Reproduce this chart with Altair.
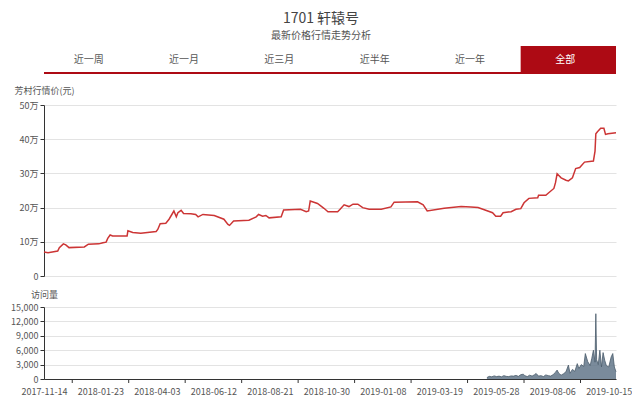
import altair as alt
import pandas as pd

# ---------------- data ----------------
tab_labels = ["近一周", "近一月", "近三月", "近半年", "近一年", "全部"]
active_tab = "全部"

price_dates = [
    "2017-11-14", "2017-11-19", "2017-11-26", "2017-12-01", "2017-12-03", "2017-12-08",
    "2017-12-11", "2017-12-15", "2018-01-03", "2018-01-08", "2018-01-21", "2018-01-26",
    "2018-01-30", "2018-02-01", "2018-02-04", "2018-02-07", "2018-02-25", "2018-02-26",
    "2018-03-04", "2018-03-14", "2018-04-02", "2018-04-04", "2018-04-07", "2018-04-14",
    "2018-04-18", "2018-04-24", "2018-04-27", "2018-04-29", "2018-05-03", "2018-05-06",
    "2018-05-15", "2018-05-21", "2018-05-24", "2018-05-30", "2018-06-13", "2018-06-25",
    "2018-06-30", "2018-07-02", "2018-07-07", "2018-07-26", "2018-08-04", "2018-08-07",
    "2018-08-12", "2018-08-16", "2018-08-20", "2018-09-04", "2018-09-07", "2018-09-28",
    "2018-10-05", "2018-10-08", "2018-10-10", "2018-10-19", "2018-10-23", "2018-10-27",
    "2018-11-01", "2018-11-13", "2018-11-16", "2018-11-21", "2018-11-27", "2018-12-02",
    "2018-12-08", "2018-12-14", "2018-12-22", "2019-01-06", "2019-01-18", "2019-01-22",
    "2019-02-20", "2019-02-27", "2019-03-04", "2019-03-25", "2019-04-15", "2019-04-27",
    "2019-05-06", "2019-05-12", "2019-05-24", "2019-05-28", "2019-06-03", "2019-06-06",
    "2019-06-16", "2019-06-22", "2019-06-28", "2019-07-02", "2019-07-08", "2019-07-19",
    "2019-07-20", "2019-07-29", "2019-08-02", "2019-08-08", "2019-08-10", "2019-08-12",
    "2019-08-17", "2019-08-23", "2019-08-26", "2019-08-31", "2019-09-04", "2019-09-09",
    "2019-09-15", "2019-09-26", "2019-09-28", "2019-09-29", "2019-10-01", "2019-10-05",
    "2019-10-09", "2019-10-11", "2019-10-14", "2019-10-24",
]
price_values = [
    70000, 68000, 71000, 73000, 83000, 94000,
    91000, 83000, 85000, 93000, 94000, 97000,
    99000, 110000, 120000, 117000, 117000, 132000,
    127000, 125000, 130000, 136000, 153000, 154000,
    166000, 190000, 173000, 185000, 192000, 183000,
    182000, 180000, 173000, 180000, 177000, 166000,
    151000, 148000, 161000, 163000, 173000, 180000,
    175000, 177000, 170000, 173000, 193000, 195000,
    188000, 190000, 219000, 212000, 205000, 198000,
    188000, 188000, 195000, 208000, 203000, 210000,
    210000, 200000, 195000, 195000, 202000, 216000,
    217000, 208000, 190000, 198000, 203000, 202000,
    200000, 195000, 185000, 175000, 175000, 185000,
    188000, 195000, 197000, 214000, 227000, 229000,
    236000, 236000, 244000, 256000, 273000, 299000,
    287000, 280000, 278000, 287000, 314000, 317000,
    333000, 336000, 365000, 416000, 422000, 432000,
    432000, 414000, 416000, 419000,
]

visit_dates = [
    "2019-05-17", "2019-05-20", "2019-05-23", "2019-05-26", "2019-05-29", "2019-06-01",
    "2019-06-04", "2019-06-07", "2019-06-10", "2019-06-13", "2019-06-16", "2019-06-19",
    "2019-06-22", "2019-06-25", "2019-06-28", "2019-07-01", "2019-07-03", "2019-07-06",
    "2019-07-09", "2019-07-12", "2019-07-15", "2019-07-17", "2019-07-20", "2019-07-23",
    "2019-07-26", "2019-07-29", "2019-08-01", "2019-08-04", "2019-08-07", "2019-08-10",
    "2019-08-12", "2019-08-14", "2019-08-17", "2019-08-20", "2019-08-23", "2019-08-26",
    "2019-08-28", "2019-08-31", "2019-09-03", "2019-09-06", "2019-09-08", "2019-09-11",
    "2019-09-14", "2019-09-16", "2019-09-19", "2019-09-22", "2019-09-24", "2019-09-26",
    "2019-09-28", "2019-09-29", "2019-09-30", "2019-10-02", "2019-10-04", "2019-10-06",
    "2019-10-08", "2019-10-10", "2019-10-12", "2019-10-15", "2019-10-18", "2019-10-20",
    "2019-10-22", "2019-10-24",
]
visit_values = [
    300, 550, 450, 650, 500, 600,
    450, 700, 550, 500, 650, 600,
    750, 550, 900, 1000, 700, 500,
    800, 600, 900, 1150, 600, 700,
    500, 850, 700, 600, 900, 1400,
    1850, 1200, 800, 1100, 1500, 2900,
    1200, 2000, 1600, 3200, 2200, 3000,
    2600, 5300, 3600, 2800, 4300, 6000,
    3500, 13600, 4000, 3000, 6000, 2500,
    5500, 3900, 2800, 2500, 4600, 5300,
    2500, 1500,
]

axis_label_dates = [
    "2017-11-14", "2018-01-23", "2018-04-03", "2018-06-12", "2018-08-21",
    "2018-10-30", "2019-01-08", "2019-03-19", "2019-05-28", "2019-08-06", "2019-10-15",
]
axis_tick_dates = [
    "2017-12-19", "2018-02-27", "2018-05-08", "2018-07-17", "2018-09-25",
    "2018-12-04", "2019-02-12", "2019-04-23", "2019-07-02", "2019-09-10",
]

# ---------------- helpers ----------------
FONT = "Noto Sans CJK SC"
RED = "#ad0a14"
LINE_RED = "#cc3535"
W = 572


def dt(s):
    y, m, d = (int(p) for p in s.split("-"))
    return alt.DateTime(year=y, month=m, date=d, utc=True)


x_scale = alt.Scale(type="utc", domain=[dt("2017-11-14"), dt("2019-10-24")])

price_df = pd.DataFrame({"date": price_dates, "price": price_values})
visit_df = pd.DataFrame({"date": visit_dates, "visits": visit_values})
tick_df = pd.DataFrame({"date": axis_tick_dates})
tab_df = pd.DataFrame({"tab": tab_labels, "active": [t == active_tab for t in tab_labels]})

# ---------------- header (title + tabs) ----------------
tab_x = alt.X("tab:N", sort=tab_labels, axis=None,
              scale=alt.Scale(paddingInner=0, paddingOuter=0))
tab_rect = alt.Chart(tab_df).mark_rect().encode(
    x=tab_x,
    color=alt.condition("datum.active", alt.value(RED), alt.value("#ffffff")),
)
tab_text = alt.Chart(tab_df).mark_text(font=FONT, fontSize=10, baseline="middle", dx=-3).encode(
    x=tab_x,
    y=alt.value(14),
    text="tab:N",
    color=alt.condition("datum.active", alt.value("#ffffff"), alt.value("#555555")),
)
tab_line = alt.Chart(tab_df).mark_rule(color=RED, strokeWidth=2).encode(
    x=alt.value(0), x2=alt.value(W), y=alt.value(27)
)
header = alt.layer(tab_rect, tab_text, tab_line).properties(
    width=W,
    height=28,
    title=alt.TitleParams(
        text="1701 轩辕号",
        subtitle="最新价格行情走势分析",
        anchor="middle",
        dx=-9,
        font=FONT,
        fontSize=14,
        fontWeight="normal",
        color="#444444",
        subtitleFont=FONT,
        subtitleFontSize=10,
        subtitleColor="#555555",
        subtitlePadding=5,
        offset=5,
    ),
)

# ---------------- price line ----------------
price = alt.Chart(price_df).mark_line(color=LINE_RED, strokeWidth=1.5).encode(
    x=alt.X("date:T", scale=x_scale, axis=None),
    y=alt.Y(
        "price:Q",
        scale=alt.Scale(domain=[0, 500000]),
        axis=alt.Axis(
            title="芳村行情价(元)",
            titleAngle=0,
            titleX=-30,
            titleY=-12,
            titleAlign="left",
            titleBaseline="alphabetic",
            values=[0, 100000, 200000, 300000, 400000, 500000],
            labelExpr="datum.value == 0 ? '0' : (datum.value / 10000) + '万'",
        ),
    ),
).properties(width=W, height=171)

# ---------------- visits ----------------
visits_area = alt.Chart(visit_df).mark_area(
    color="#63778a", opacity=0.85, line={"color": "#4a5c6b", "strokeWidth": 0.8}
).encode(
    x=alt.X(
        "date:T",
        scale=x_scale,
        axis=alt.Axis(
            title=None,
            values=[dt(d) for d in axis_label_dates],
            format="%Y-%m-%d",
            ticks=False,
            labelPadding=8,
            labelOverlap=False,
            labelFlush=False,
            grid=False,
        ),
    ),
    y=alt.Y(
        "visits:Q",
        scale=alt.Scale(domain=[0, 15000]),
        axis=alt.Axis(
            title="访问量",
            titleAngle=0,
            titleX=0,
            titleY=-10,
            titleAlign="center",
            titleBaseline="alphabetic",
            values=[0, 3000, 6000, 9000, 12000, 15000],
            format=",d",
        ),
    ),
)
visit_ticks = alt.Chart(tick_df).mark_rule(color="#333333", strokeWidth=1).encode(
    x=alt.X("date:T", scale=x_scale), y=alt.value(72), y2=alt.value(76)
)
visits = alt.layer(visits_area, visit_ticks).properties(width=W, height=72)

chart = (
    alt.vconcat(header, price, visits, spacing=31, bounds="flush")
    .properties(padding={"left": 2, "top": 4, "right": 0, "bottom": 0})
    .configure_view(stroke=None)
    .configure_axis(
        labelFont=FONT,
        labelFontSize=9,
        labelColor="#555555",
        titleFont=FONT,
        titleFontSize=9,
        titleFontWeight="normal",
        titleColor="#555555",
        domainColor="#333333",
        tickColor="#333333",
        tickSize=4,
        labelPadding=2,
        gridColor="#e3e3e3",
    )
)

chart.save("out.html", embed_options={"renderer": "svg", "actions": False})
